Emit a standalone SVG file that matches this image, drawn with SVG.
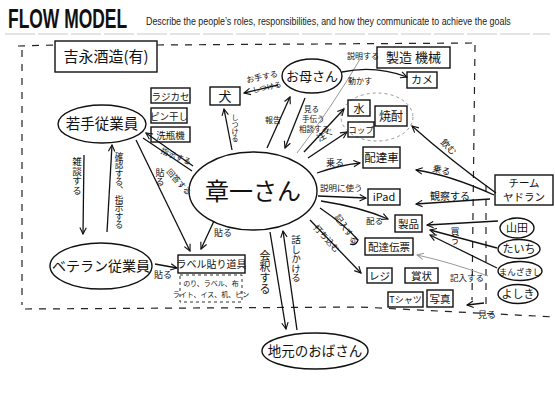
<svg xmlns="http://www.w3.org/2000/svg" width="555" height="403" viewBox="0 0 555 403">
  <defs>
    <marker id="ah" viewBox="0 0 10 10" refX="9" refY="5" markerWidth="8" markerHeight="8" markerUnits="userSpaceOnUse" orient="auto">
      <path d="M1,1 L9,5 L1,9" fill="none" stroke="#111" stroke-width="1.4"/>
    </marker>
    <marker id="ahg" viewBox="0 0 10 10" refX="9" refY="5" markerWidth="8" markerHeight="8" markerUnits="userSpaceOnUse" orient="auto">
      <path d="M1,1 L9,5 L1,9" fill="none" stroke="#999" stroke-width="1.2"/>
    </marker>
  </defs>
  <style>
    .bx { fill: none; stroke: #111; stroke-width: 1.4; }
    .el { fill: none; stroke: #111; stroke-width: 1.4; }
    .ln { fill: none; stroke: #111; stroke-width: 1.3; }
    .gl { fill: none; stroke: #9a9a9a; stroke-width: 1; }
    .bd { fill: none; stroke: #222; stroke-width: 1.2; stroke-dasharray: 7 7; }
    .jp { font-family: "Noto Sans CJK JP", sans-serif; fill: #111; text-anchor: middle; }
    .lb { font-family: "Noto Sans CJK JP", sans-serif; fill: #111; }
    .vt { writing-mode: vertical-rl; }
  </style>
  <rect width="555" height="403" fill="#fff"/>

  <!-- heading (condensed by horizontal scaling) -->
  <text transform="translate(8,28) scale(0.623,1)" x="0" y="0" font-family="Liberation Sans, Arial, sans-serif" font-weight="bold" font-size="28" fill="#111">FLOW MODEL</text>
  <text transform="translate(146,25) scale(0.8,1)" x="0" y="0" font-family="Liberation Sans, Arial, sans-serif" font-size="10" textLength="456" lengthAdjust="spacingAndGlyphs" fill="#222">Describe the people’s roles, responsibilities, and how they communicate to achieve the goals</text>
  <line x1="5" y1="34" x2="550" y2="34" stroke="#c8c8c8" stroke-width="1" stroke-dasharray="30 3"/>

  <!-- dashed boundary of the organisation -->
  <g id="boundary">
    <path class="bd" d="M18,46 L55,45 M157,45 L475,43"/>
    <path class="bd" d="M22,50 L22,305"/>
    <path class="bd" d="M25,309 L360,307 L555,317"/>
    <path class="bd" d="M475,45 L472,300"/>
    <path class="bd" d="M486,185 L486,305"/>
  </g>

  <!-- items grouped around the drink -->
  <ellipse cx="377" cy="117" rx="36" ry="24" class="gl" stroke-dasharray="3 3"/>

  <g id="connectors">
    <!-- young staff <-> veteran -->
    <path class="ln" d="M84,155 L83,234" marker-end="url(#ah)"/>
    <path class="ln" d="M107,232 L112,145" marker-end="url(#ah)"/>
    <!-- young staff -> label tools -->
    <path class="ln" d="M136,140 L190,251" marker-end="url(#ah)"/>
    <!-- shoichi -> young staff -->
    <path class="ln" d="M193,166 L146,133" marker-end="url(#ah)"/>
    <path class="ln" d="M192,171 L143,138"/>
    <!-- shoichi -> label tools -->
    <path class="ln" d="M214,221 L201,249" marker-end="url(#ah)"/>
    <!-- veteran -> label tools -->
    <path class="ln" d="M155,264 L177,268" marker-end="url(#ah)"/>
    <!-- shoichi -> dog -->
    <path class="ln" d="M232,150 L224,109" marker-end="url(#ah)"/>
    <!-- mother -> dog -->
    <path class="ln" d="M278,85 L244,93" marker-end="url(#ah)"/>
    <!-- shoichi <-> mother -->
    <path class="ln" d="M267,148 L290,97" marker-end="url(#ah)"/>
    <path class="ln" d="M305,98 L285,148" marker-end="url(#ah)"/>
    <!-- faint line up to the machines -->
    <path class="gl" d="M297,153 Q330,110 362,56"/>
    <!-- mother -> turtle -->
    <path class="ln" d="M342,72 Q375,65 407,77" marker-end="url(#ah)"/>
    <!-- shoichi -> water / cup -->
    <path class="ln" d="M304,152 L344,109" marker-end="url(#ah)"/>
    <path class="ln" d="M308,158 L347,132" marker-end="url(#ah)"/>
    <!-- shoichi -> delivery truck -->
    <path class="ln" d="M317,173 Q340,165 360,163" marker-end="url(#ah)"/>
    <!-- shoichi -> iPad -->
    <path class="ln" d="M318,196 L366,198" marker-end="url(#ah)"/>
    <!-- shoichi -> product -->
    <path class="ln" d="M321,201 Q360,207 388,219" marker-end="url(#ah)"/>
    <!-- shoichi -> delivery slip -->
    <path class="ln" d="M320,208 Q345,225 358,240 Q356,246 350,244"/>
    <!-- shoichi -> register -->
    <path class="ln" d="M310,220 L361,273" marker-end="url(#ah)"/>
    <!-- shoichi <-> local lady -->
    <path class="ln" d="M270,232 L286,329" marker-end="url(#ah)"/>
    <path class="ln" d="M297,330 L283,231" marker-end="url(#ah)"/>
    <!-- team yadoran -->
    <path class="ln" d="M496,193 Q450,160 412,126" marker-end="url(#ah)"/>
    <path class="ln" d="M494,195 Q450,175 416,170" marker-end="url(#ah)"/>
    <path class="ln" d="M490,199 L416,204" marker-end="url(#ah)"/>
    <!-- members -> product -->
    <path class="ln" d="M498,221 L427,225" marker-end="url(#ah)"/>
    <path class="ln" d="M497,248 L430,230" marker-end="url(#ah)"/>
    <path class="ln" d="M497,268 L430,235" marker-end="url(#ah)"/>
    <path class="gl" d="M488,276 Q450,262 417,255" marker-end="url(#ahg)"/>
    <!-- look at photo -->
    <path class="ln" d="M484,303 L467,305" marker-end="url(#ah)"/>
  </g>

  <g id="connector-labels">
    <text class="lb vt" x="77" y="157" font-size="9.5">雑談する</text>
    <text class="lb vt" x="119" y="152" font-size="8.6">確認する、指示する</text>
    <text class="lb vt" x="160" y="168" font-size="9">貼る</text>
    <text class="lb" x="160" y="153" font-size="8" transform="rotate(22 160 153)">指示する</text>
    <text class="lb" x="166" y="172" font-size="8" transform="rotate(48 166 172)">回答する</text>
    <text class="lb" x="214" y="236" font-size="9">貼る</text>
    <text class="lb" x="154" y="278" font-size="9">貼る</text>
    <text class="lb vt" x="235" y="114" font-size="7">しつける</text>
    <text class="lb" x="247" y="83" font-size="8" transform="rotate(-12 247 83)">お手する</text>
    <text class="lb" x="253" y="93" font-size="7.5" transform="rotate(-12 253 93)">しつける</text>
    <text class="lb" x="265" y="123" font-size="8">報告</text>
    <text class="lb" x="304" y="112" font-size="7.5">見る</text>
    <text class="lb" x="302" y="122" font-size="7.5">手伝う</text>
    <text class="lb" x="299" y="132" font-size="7.5">相談する</text>
    <text class="lb" x="347" y="59" font-size="8">説明する</text>
    <text class="lb" x="348" y="84" font-size="8">動かす</text>
    <text class="lb" x="319" y="142" font-size="9" transform="rotate(-30 319 142)">注ぐ</text>
    <text class="lb" x="326" y="166" font-size="9">乗る</text>
    <text class="lb" x="320" y="191" font-size="8.5">説明に使う</text>
    <text class="lb" x="366" y="224" font-size="8.5">配る</text>
    <text class="lb" x="334" y="217" font-size="8.5" transform="rotate(55 334 217)">記入する</text>
    <text class="lb" x="313" y="228" font-size="8.5" transform="rotate(48 313 228)">打ち込む</text>
    <text class="lb vt" x="265" y="250" font-size="11">会釈する</text>
    <text class="lb vt" x="296" y="235" font-size="9.5">話しかける</text>
    <text class="lb" x="440" y="143" font-size="9" transform="rotate(45 440 143)">飲む</text>
    <text class="lb" x="432" y="171" font-size="9" transform="rotate(15 432 171)">乗る</text>
    <text class="lb" x="430" y="200" font-size="10">観察する</text>
    <text class="lb vt" x="455" y="227" font-size="9">買う</text>
    <text class="lb" x="450" y="281" font-size="8.5">記入する</text>
    <text class="lb" x="478" y="318" font-size="9">見る</text>
  </g>

  <!-- company -->
  <g id="company">
    <rect class="bx" x="55" y="41" width="102" height="31"/>
    <text class="jp" x="106" y="62" font-size="15">吉永酒造(有)</text>
  </g>

  <!-- people -->
  <g id="young-staff">
    <ellipse class="el" cx="102" cy="124" rx="44" ry="19"/>
    <text class="jp" x="102" y="129" font-size="14.5">若手従業員</text>
  </g>
  <g id="veteran-staff">
    <ellipse class="el" cx="101" cy="266" rx="51" ry="23"/>
    <text class="jp" x="101" y="271" font-size="14">ベテラン従業員</text>
  </g>
  <g id="mother">
    <ellipse class="el" cx="312" cy="76" rx="30" ry="17"/>
    <text class="jp" x="312" y="81" font-size="13">お母さん</text>
  </g>
  <g id="shoichi">
    <ellipse class="el" cx="253" cy="191" rx="64" ry="39"/>
    <text class="jp" x="253" y="200" font-size="24">章一さん</text>
  </g>
  <g id="local-lady">
    <ellipse class="el" cx="315" cy="351" rx="53" ry="18"/>
    <text class="jp" x="315" y="356" font-size="13.5">地元のおばさん</text>
  </g>
  <g id="yamada">
    <ellipse class="el" cx="517" cy="228" rx="17" ry="10"/>
    <text class="jp" x="517" y="232" font-size="11">山田</text>
  </g>
  <g id="taichi">
    <ellipse class="el" cx="519" cy="249" rx="21" ry="9.5"/>
    <text class="jp" x="519" y="253" font-size="11">たいち</text>
  </g>
  <g id="manzaki">
    <ellipse class="el" cx="520" cy="271" rx="22" ry="9.5"/>
    <text class="jp" x="520" y="274.5" font-size="8.5">まんざきし</text>
  </g>
  <g id="yoshiki">
    <ellipse class="el" cx="518" cy="294" rx="20" ry="9.5"/>
    <text class="jp" x="518" y="298" font-size="11">よしき</text>
  </g>
  <g id="team-yadoran">
    <rect class="bx" x="495" y="175" width="58" height="30"/>
    <text class="jp" x="524" y="187" font-size="10.5">チーム</text>
    <text class="jp" x="524" y="201" font-size="10.5">ヤドラン</text>
  </g>

  <!-- things -->
  <g id="radio">
    <rect class="bx" x="151" y="88" width="39" height="15"/>
    <text class="jp" x="170.5" y="99.5" font-size="9.5">ラジカセ</text>
  </g>
  <g id="pin-drying">
    <rect class="bx" x="151" y="108" width="36" height="15"/>
    <text class="jp" x="169" y="119.5" font-size="9.5">ピン干し</text>
  </g>
  <g id="bottle-washer">
    <rect class="bx" x="151" y="127" width="39" height="15"/>
    <text class="jp" x="170.5" y="138.5" font-size="9.5">洗瓶機</text>
  </g>
  <g id="dog">
    <rect class="bx" x="210" y="87" width="30" height="18"/>
    <text class="jp" x="225" y="100.5" font-size="13">犬</text>
  </g>
  <g id="machinery">
    <rect class="bx" x="377" y="47" width="73" height="21"/>
    <text class="jp" x="413.5" y="62" font-size="13">製造 機械</text>
  </g>
  <g id="turtle">
    <rect class="bx" x="407" y="72" width="30" height="16"/>
    <text class="jp" x="422" y="84" font-size="11">カメ</text>
  </g>
  <g id="water">
    <rect class="bx" x="348" y="100" width="22" height="16"/>
    <text class="jp" x="359" y="112.5" font-size="11">水</text>
  </g>
  <g id="shochu">
    <rect class="bx" x="375" y="106" width="32" height="20"/>
    <text class="jp" x="391" y="120.5" font-size="12">焼酎</text>
  </g>
  <g id="cup">
    <rect class="bx" x="348" y="122" width="26" height="15"/>
    <text class="jp" x="361" y="133" font-size="8.5">コップ</text>
  </g>
  <g id="delivery-truck">
    <rect class="bx" x="363" y="147" width="37" height="21"/>
    <text class="jp" x="381.5" y="161.5" font-size="11.5">配達車</text>
  </g>
  <g id="ipad">
    <rect class="bx" x="368" y="189" width="32" height="16"/>
    <text class="jp" x="384" y="201" font-size="11">iPad</text>
  </g>
  <g id="product">
    <rect class="bx" x="395" y="215" width="27" height="17"/>
    <text class="jp" x="408.5" y="227.5" font-size="10.5">製品</text>
  </g>
  <g id="delivery-slip">
    <rect class="bx" x="365" y="238" width="48" height="17"/>
    <text class="jp" x="389" y="250.5" font-size="10.5">配達伝票</text>
  </g>
  <g id="register">
    <rect class="bx" x="367" y="268" width="25" height="15"/>
    <text class="jp" x="379.5" y="279.5" font-size="10.5">レジ</text>
  </g>
  <g id="certificate">
    <rect class="bx" x="405" y="268" width="33" height="15"/>
    <text class="jp" x="421.5" y="279.5" font-size="10.5">賞状</text>
  </g>
  <g id="tshirt">
    <rect class="bx" x="388" y="292" width="35" height="15"/>
    <text class="jp" x="405.5" y="303" font-size="9">Tシャツ</text>
  </g>
  <g id="photo">
    <rect class="bx" x="427" y="290" width="26" height="17"/>
    <text class="jp" x="440" y="302.5" font-size="10.5">写真</text>
  </g>
  <g id="labelling-tools">
    <rect class="bx" x="178" y="255" width="67" height="18"/>
    <text class="jp" x="211.5" y="268" font-size="10">ラベル貼り道具</text>
    <rect x="180" y="275" width="62" height="27" fill="none" stroke="#333" stroke-width="1" stroke-dasharray="3 3"/>
    <text class="jp" x="211" y="286" font-size="7">のり、ラベル、布</text>
    <text class="jp" x="211" y="297" font-size="7">ライト、イス、机、ピン</text>
  </g>
</svg>
